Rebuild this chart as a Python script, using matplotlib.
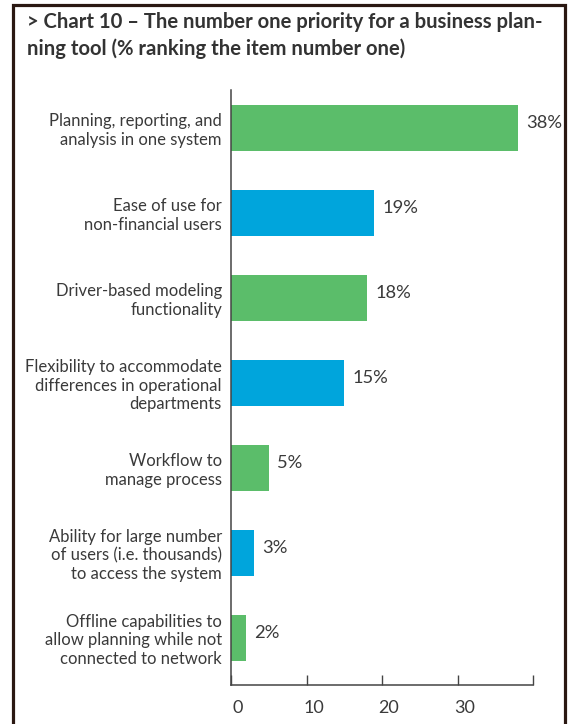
import matplotlib
matplotlib.use("Agg")
import matplotlib.pyplot as plt
from matplotlib.patches import Rectangle
from matplotlib.transforms import ScaledTranslation

categories = [
    "Planning, reporting, and\nanalysis in one system",
    "Ease of use for\nnon-financial users",
    "Driver-based modeling\nfunctionality",
    "Flexibility to accommodate\ndifferences in operational\ndepartments",
    "Workflow to\nmanage process",
    "Ability for large number\nof users (i.e. thousands)\nto access the system",
    "Offline capabilities to\nallow planning while not\nconnected to network",
]
values = [38, 19, 18, 15, 5, 3, 2]
bar_colors = ["#5bbd6a", "#00a5dc", "#5bbd6a", "#00a5dc", "#5bbd6a", "#00a5dc", "#5bbd6a"]
x_ticks = [0, 10, 20, 30, 40]
x_tick_labels = ["0", "10", "20", "30", ""]
title = ("> Chart 10 – The number one priority for a business plan-\n"
         "ning tool (% ranking the item number one)")

W, H = 575, 724
plt.rcParams["font.family"] = ["Lato", "DejaVu Sans"]
text_color = "#3a3a3a"

fig = plt.figure(figsize=(W / 100, H / 100), dpi=100)
fig.patch.set_facecolor("white")

# outer frame
fig.patches.append(Rectangle((13.5 / W, -0.05), (565 - 13.5) / W, 1.05 - 4.5 / H,
                             transform=fig.transFigure, fill=False,
                             edgecolor="#2a1812", linewidth=2.3, zorder=10))

fig.text(27 / W, 1 - 12 / H, title, ha="left", va="top", fontsize=14.6,
         fontweight="bold", color="#333333", linespacing=1.38)

ax = fig.add_axes([231 / W, 39 / H, 302 / W, 595 / H])
y = list(range(len(categories)))
ax.barh(y, values, height=0.538, color=bar_colors, zorder=2)
ax.set_xlim(0, 40)
ax.set_ylim(6.555, -0.447)

for yi, v in zip(y, values):
    ax.annotate(f"{v}%", xy=(v, yi), xytext=(6, 3.5), textcoords="offset points",
                ha="left", va="center", fontsize=13.2, color=text_color)

ax.set_yticks(y)
ax.set_yticklabels(categories, ha="right", fontsize=12, color=text_color,
                   linespacing=1.17)
ax.tick_params(axis="y", length=0, pad=6.5)

ax.set_xticks(x_ticks)
ax.set_xticklabels(x_tick_labels, fontsize=13, color=text_color)
ax.tick_params(axis="x", direction="in", length=7.5, width=1.0, color="#444444", pad=10.5)
for lbl in ax.get_xticklabels():
    lbl.set_transform(lbl.get_transform() + ScaledTranslation(5 / 72, 0, fig.dpi_scale_trans))

for side in ("top", "right"):
    ax.spines[side].set_visible(False)
for side in ("left", "bottom"):
    ax.spines[side].set_color("#444444")
    ax.spines[side].set_linewidth(1.1)

fig.savefig("out.png", dpi=100)
